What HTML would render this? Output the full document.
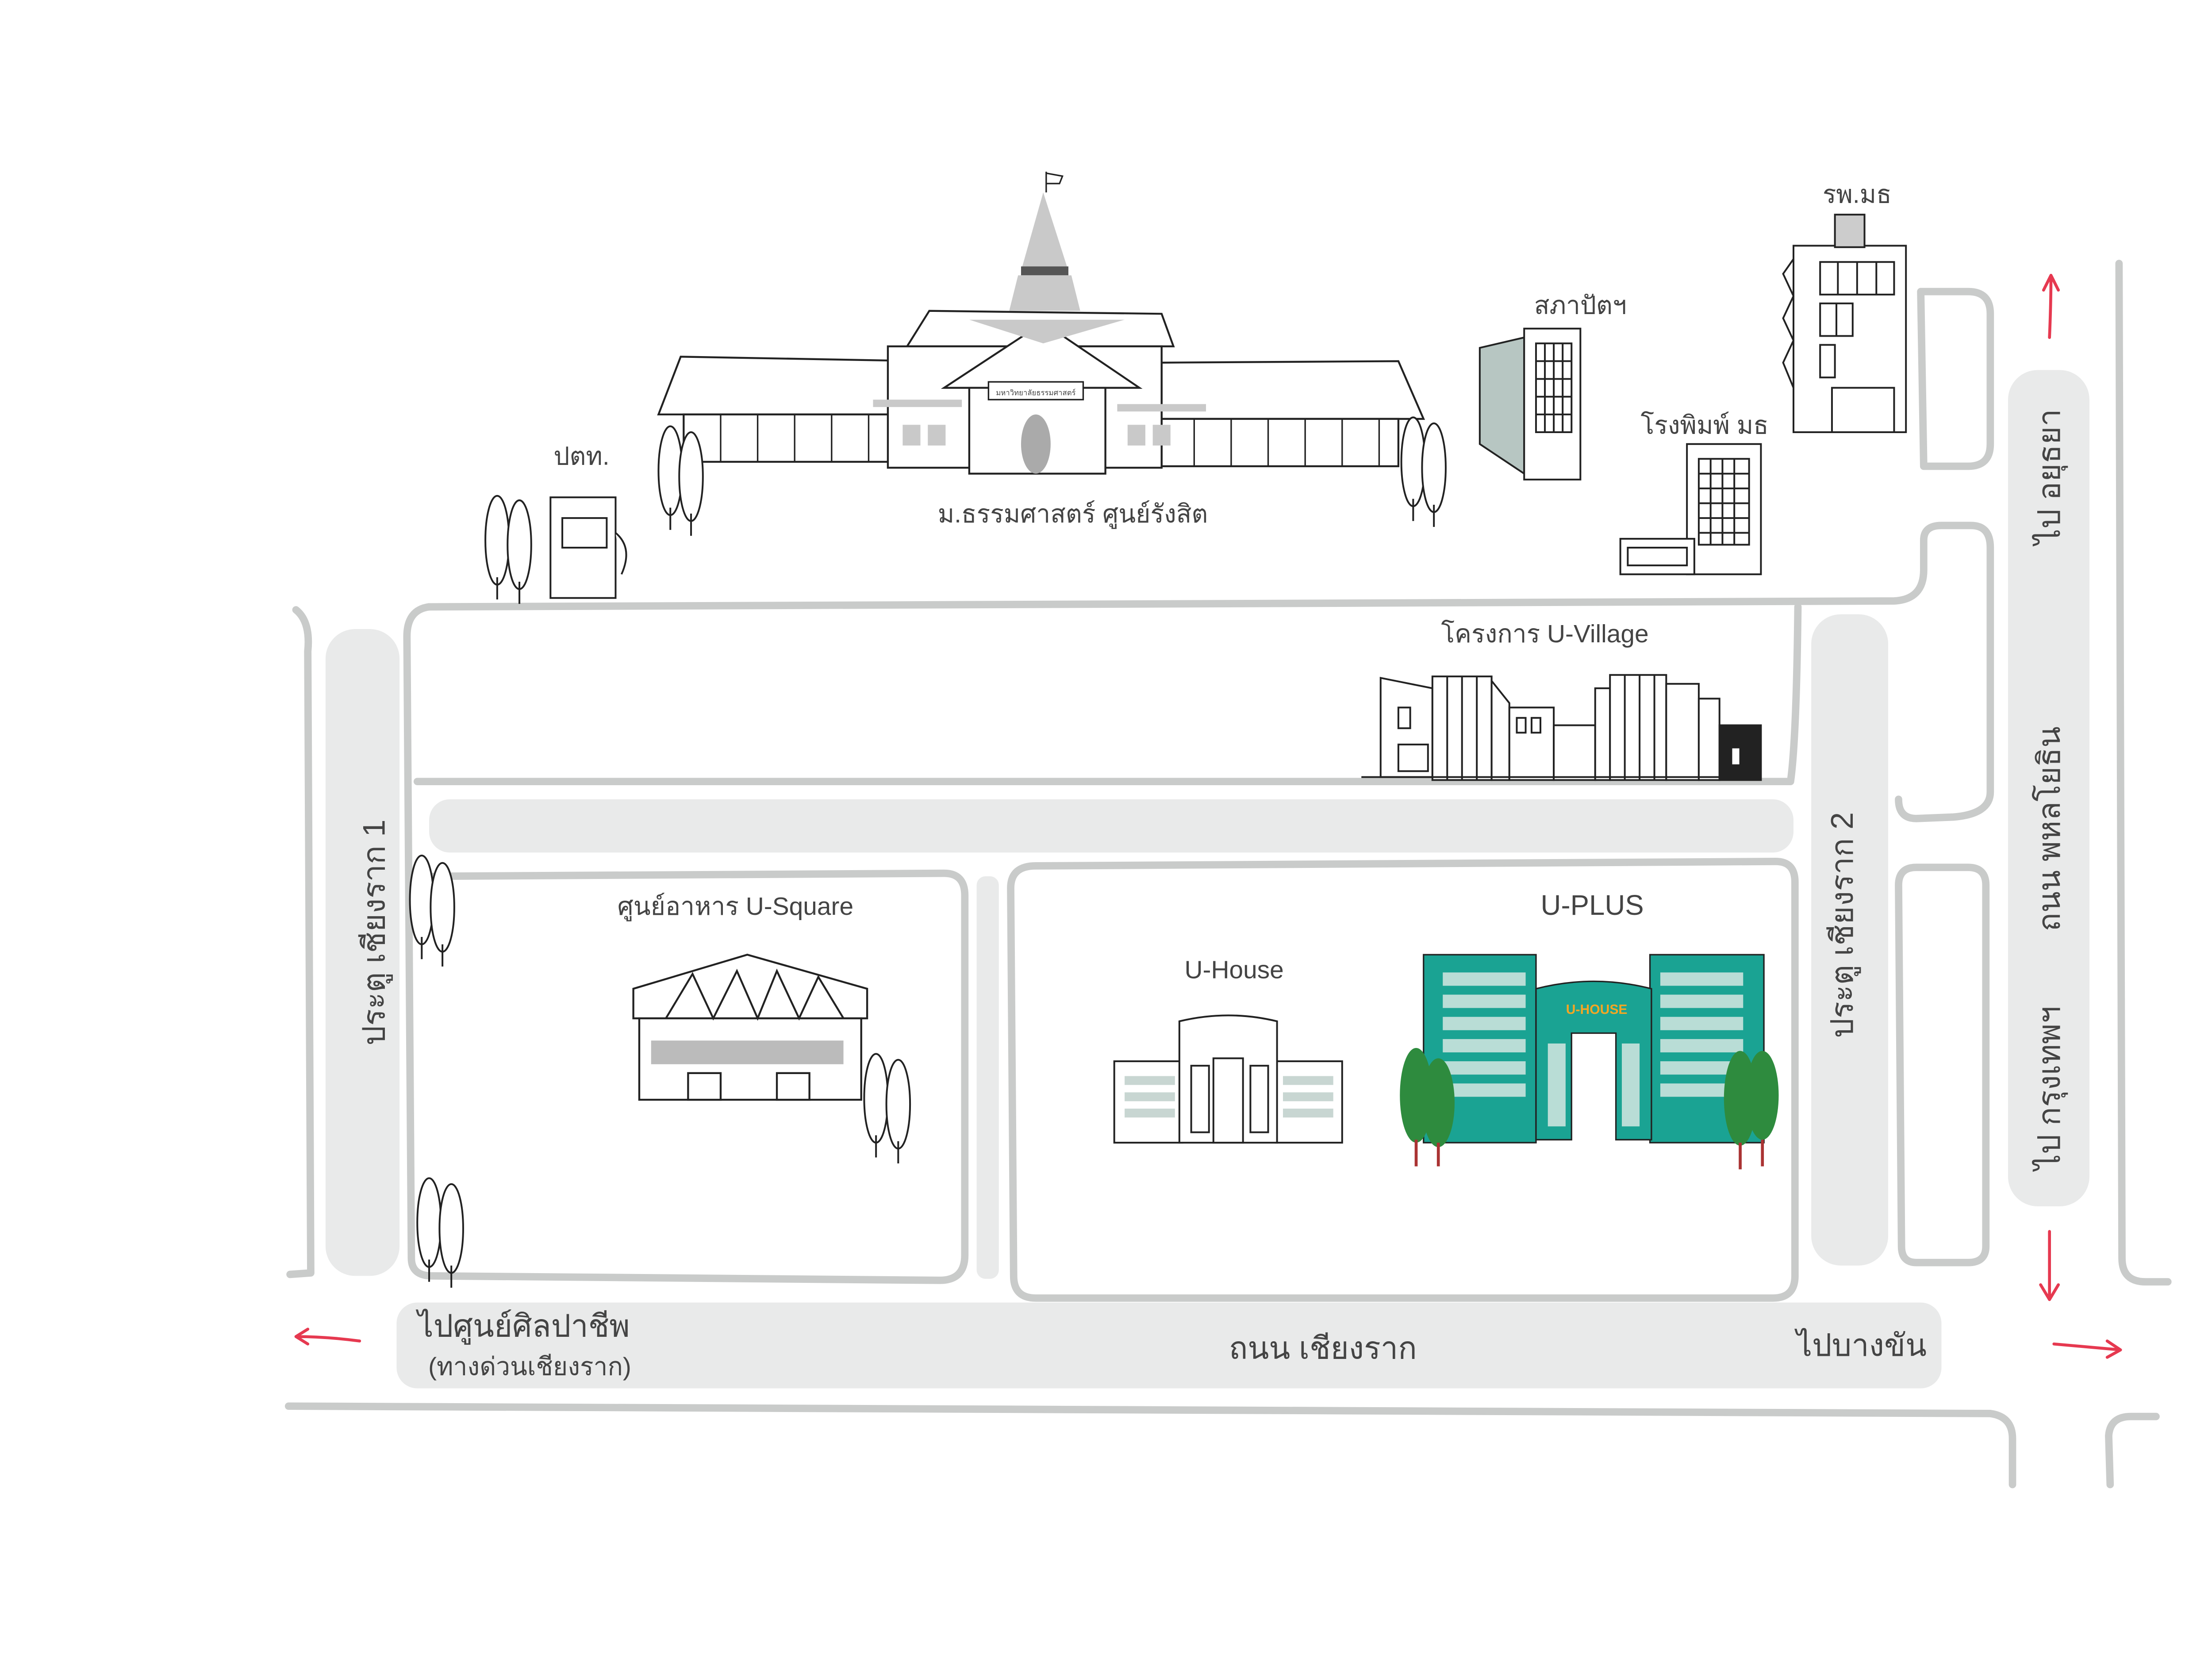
<!DOCTYPE html>
<html><head><meta charset="utf-8"><style>
html,body{margin:0;padding:0;background:#fff;}
svg{display:block;}
text{font-family:"Liberation Sans","DejaVu Sans",sans-serif;fill:#444;}
</style></head><body>
<svg width="5218" height="3791" viewBox="0 0 1560 1133" preserveAspectRatio="none" xmlns="http://www.w3.org/2000/svg">
<defs><g id="tr"><ellipse cx="0" cy="0" rx="8" ry="30" fill="#fff" stroke="#222" stroke-width="1.2"/><line x1="0" y1="25" x2="0" y2="40" stroke="#222" stroke-width="1.2"/></g></defs>
<rect width="1560" height="1133" fill="#fff"/>
<g fill="#e9eaea">
<rect x="220" y="425" width="50" height="437" rx="20"/>
<rect x="290" y="540" width="922" height="36" rx="14"/>
<rect x="660" y="592" width="15" height="272" rx="6"/>
<rect x="1224" y="415" width="52" height="440" rx="20"/>
<rect x="1357" y="250" width="55" height="565" rx="20"/>
<rect x="268" y="880" width="1044" height="58" rx="14"/>
</g>
<g fill="none" stroke="#c9cbca" stroke-width="5" stroke-linecap="round" stroke-linejoin="round">
<path d="M200 412 Q210 420 208 440 L210 860 L196 861"/>
<path d="M290 410 L1280 406 Q1300 405 1300 385 L1300 365 Q1300 355 1312 355 L1332 355 Q1345 355 1345 370 L1345 535 Q1345 550 1320 552 L1295 553 Q1283 553 1283 540"/>
<path d="M290 410 Q275 412 275 430 L278 850 Q278 862 292 862 L635 865 Q652 865 652 848 L652 605 Q652 590 638 590 L295 592 Q282 592 282 605"/>
<path d="M282 528 L1210 528 Q1214 500 1215 410"/>
<path d="M683 600 Q683 585 700 585 L1200 582 Q1213 582 1213 596 L1213 862 Q1213 877 1198 877 L700 877 Q685 877 685 862 Z"/>
<path d="M1283 598 Q1283 586 1295 586 L1330 586 Q1342 586 1342 598 L1342 842 Q1342 853 1330 853 L1295 853 Q1285 853 1285 842 Z"/>
<path d="M1298 197 L1330 197 Q1345 197 1345 212 L1345 300 Q1345 315 1330 315 L1300 315 Z"/>
<path d="M1432 178 L1434 850 Q1434 866 1450 866 L1465 866"/>
<path d="M195 950 L1345 955 Q1360 957 1360 972 L1360 1003"/>
<path d="M1426 1003 L1425 970 Q1426 957 1440 957 L1457 957"/>
</g>
<g fill="none" stroke="#e63950" stroke-width="2" stroke-linecap="round">
<path d="M243 906 Q220 903 200 903 M200 903 L208 898 M200 903 L208 908"/>
<path d="M1385 228 Q1386 205 1386 186 M1386 186 L1381 196 M1386 186 L1391 196"/>
<path d="M1385 832 Q1385 855 1385 878 M1385 878 L1379 868 M1385 878 L1391 868"/>
<path d="M1388 908 Q1410 910 1433 912 M1433 912 L1424 906 M1433 912 L1424 917"/>
</g>
<g fill="#fff" stroke="#222" stroke-width="1.3">
<path d="M445 280 L460 241 L625 244 L625 280 Z"/>
<rect x="462" y="280" width="160" height="32"/>
<path d="M785 245 L945 244 L962 283 L785 283 Z"/>
<rect x="785" y="283" width="160" height="32"/>
<path d="M613 234 L628 210 L785 212 L793 234 Z"/>
<rect x="600" y="234" width="185" height="82"/>
<path d="M638 262 L705 218 L770 262 Z"/>
<rect x="655" y="262" width="92" height="58"/>
</g>
<g fill="#c9c9c9"><path d="M705 130 L690 183 L722 183 Z"/><rect x="690" y="180" width="32" height="6" fill="#555"/><path d="M688 186 L724 186 L730 210 L682 210 Z"/><path d="M655 216 L760 216 L705 232Z"/><rect x="590" y="270" width="60" height="5"/><rect x="755" y="273" width="60" height="5"/><rect x="610" y="287" width="12" height="14"/><rect x="627" y="287" width="12" height="14"/><rect x="762" y="287" width="12" height="14"/><rect x="779" y="287" width="12" height="14"/><ellipse cx="700" cy="300" rx="10" ry="20" fill="#aaa"/></g>
<g stroke="#222" stroke-width="1" fill="none">
<line x1="707" y1="130" x2="707" y2="116"/><path d="M707 117 L718 119 L716 124 L707 124"/>
<rect x="668" y="258" width="64" height="12" fill="#fff"/>
<path d="M487 280v32M512 280v32M537 280v32M562 280v32M587 280v32M807 283v32M832 283v32M857 283v32M882 283v32M907 283v32M932 283v32"/>
</g>
<text x="700" y="267" font-size="5" text-anchor="middle">มหาวิทยาลัยธรรมศาสตร์</text>
<text x="725" y="353" font-size="17" text-anchor="middle">ม.ธรรมศาสตร์  ศูนย์รังสิต</text>
<use href="#tr" x="453" y="318"/><use href="#tr" x="467" y="322"/>
<use href="#tr" x="955" y="312"/><use href="#tr" x="969" y="316"/>
<use href="#tr" x="336" y="365"/><use href="#tr" x="351" y="368"/>
<use href="#tr" x="285" y="608"/><use href="#tr" x="299" y="613"/>
<use href="#tr" x="592" y="742"/><use href="#tr" x="607" y="746"/>
<use href="#tr" x="290" y="826"/><use href="#tr" x="305" y="830"/>
<g fill="#fff" stroke="#222" stroke-width="1.2"><rect x="372" y="336" width="44" height="68"/><rect x="380" y="350" width="30" height="20"/><path d="M416 360 Q428 370 420 388"/></g>
<text x="393" y="314" font-size="17" text-anchor="middle">ปตท.</text>
<g fill="#fff" stroke="#222" stroke-width="1.2"><path d="M1000 235 L1030 228 L1030 320 L1000 300 Z" fill="#b7c6c2"/><rect x="1030" y="222" width="38" height="102"/>
<path d="M1038 232h24v60h-24z M1044 232v60M1050 232v60M1056 232v60M1038 244h24M1038 256h24M1038 268h24M1038 280h24" fill="none"/></g>
<text x="1068" y="212" font-size="17" text-anchor="middle">สภาปัตฯ</text>
<g fill="#fff" stroke="#222" stroke-width="1.2"><rect x="1140" y="300" width="50" height="88"/><rect x="1095" y="364" width="50" height="24"/>
<path d="M1148 310h34v58h-34z M1156 310v58M1164 310v58M1172 310v58M1148 320h34M1148 330h34M1148 340h34M1148 350h34M1148 360h34M1100 370h40v12h-40z" fill="none"/></g>
<text x="1152" y="293" font-size="17" text-anchor="middle">โรงพิมพ์ มธ</text>
<g fill="#fff" stroke="#222" stroke-width="1.2"><rect x="1212" y="166" width="76" height="126"/><rect x="1240" y="145" width="20" height="22" fill="#ccc"/>
<path d="M1230 177h50v22h-50z M1242 177v22M1255 177v22M1268 177v22M1230 205h22v22h-22zM1241 205v22M1230 233h10v22h-10zM1238 262h42v30h-42z" fill="none"/>
<path d="M1212 175 L1205 185 L1212 200 L1205 215 L1212 230 L1205 245 L1212 262" fill="none"/></g>
<text x="1255" y="137" font-size="17" text-anchor="middle">รพ.มธ</text>
<g fill="#fff" stroke="#222" stroke-width="1.2">
<path d="M933 458 L968 465 L968 525 L933 525 Z"/><rect x="968" y="457" width="40" height="70"/>
<path d="M1008 460 L1020 475 L1020 527 L1008 527Z"/><rect x="1020" y="478" width="30" height="49"/>
<rect x="1050" y="490" width="28" height="37"/><rect x="1078" y="465" width="10" height="62"/><rect x="1088" y="456" width="38" height="71"/>
<rect x="1126" y="462" width="22" height="65"/><rect x="1148" y="472" width="14" height="55"/><rect x="1162" y="490" width="28" height="37" fill="#222"/>
<path d="M978 457v70M988 457v70M998 457v70M1098 456v71M1108 456v71M1118 456v71M920 525h270" fill="none"/>
<rect x="945" y="478" width="8" height="14"/><rect x="945" y="503" width="20" height="18"/><rect x="1025" y="485" width="6" height="10"/><rect x="1035" y="485" width="6" height="10"/><rect x="1170" y="505" width="6" height="12" fill="#fff"/>
</g>
<text x="1044" y="434" font-size="17" text-anchor="middle">โครงการ U-Village</text>
<g fill="#fff" stroke="#222" stroke-width="1.3">
<path d="M428 668 L505 645 L586 668 L586 688 L428 688 Z"/>
<rect x="432" y="688" width="150" height="55"/>
<path d="M450 688 L468 658 L482 688 L498 656 L512 688 L525 656 L540 688 L553 660 L570 688" fill="none"/>
<rect x="465" y="725" width="22" height="18"/><rect x="525" y="725" width="22" height="18"/>
</g>
<g fill="#bbb"><path d="M440 703 h130 v16 h-130z"/></g>
<text x="497" y="618" font-size="17" text-anchor="middle">ศูนย์อาหาร U-Square</text>
<g fill="#fff" stroke="#222" stroke-width="1.2">
<rect x="753" y="717" width="46" height="55"/><rect x="862" y="717" width="45" height="55"/>
<path d="M797 690 Q830 682 863 690 L863 772 L797 772 Z"/>
<rect x="820" y="715" width="20" height="57"/>
<path d="M805 720h12v45h-12zM845 720h12v45h-12z" fill="none"/>
</g>
<g fill="#c8d6d2"><rect x="760" y="727" width="34" height="6"/><rect x="760" y="738" width="34" height="6"/><rect x="760" y="749" width="34" height="6"/><rect x="867" y="727" width="34" height="6"/><rect x="867" y="738" width="34" height="6"/><rect x="867" y="749" width="34" height="6"/></g>
<text x="834" y="661" font-size="17" text-anchor="middle">U-House</text>
<g stroke="#222" stroke-width="1">
<rect x="962" y="645" width="76" height="127" fill="#1aa393"/>
<rect x="1115" y="645" width="77" height="127" fill="#1aa393"/>
<path d="M1038 668 Q1077 658 1116 668 L1116 770 L1092 770 L1092 698 L1062 698 L1062 770 L1038 770 Z" fill="#1aa393"/>
</g>
<g fill="#b9ddd6">
<rect x="975" y="657" width="56" height="9"/><rect x="975" y="672" width="56" height="9"/><rect x="975" y="687" width="56" height="9"/><rect x="975" y="702" width="56" height="9"/><rect x="975" y="717" width="56" height="9"/><rect x="975" y="732" width="56" height="9"/>
<rect x="1122" y="657" width="56" height="9"/><rect x="1122" y="672" width="56" height="9"/><rect x="1122" y="687" width="56" height="9"/><rect x="1122" y="702" width="56" height="9"/><rect x="1122" y="717" width="56" height="9"/><rect x="1122" y="732" width="56" height="9"/>
<rect x="1046" y="705" width="12" height="56"/><rect x="1096" y="705" width="12" height="56"/>
</g>
<text x="1079" y="685" font-size="9" text-anchor="middle" font-weight="bold" style="fill:#f5a623">U-HOUSE</text>
<g fill="#2e8b3e"><ellipse cx="957" cy="740" rx="11" ry="32"/><ellipse cx="972" cy="745" rx="11" ry="30"/><ellipse cx="1176" cy="742" rx="11" ry="32"/><ellipse cx="1191" cy="740" rx="11" ry="30"/></g>
<g stroke="#a33" stroke-width="2"><path d="M957 770v18M972 772v16M1176 772v18M1191 770v18"/></g>
<text x="1076" y="618" font-size="19" text-anchor="middle">U-PLUS</text>
<text x="354" y="903" font-size="21" text-anchor="middle">ไปศูนย์ศิลปาชีพ</text>
<text x="358" y="929" font-size="17" text-anchor="middle">(ทางด่วนเชียงราก)</text>
<text x="894" y="918" font-size="21" text-anchor="middle">ถนน เชียงราก</text>
<text x="1258" y="916" font-size="21" text-anchor="middle">ไปบางขัน</text>
<text transform="translate(260 630) rotate(-90)" font-size="21" text-anchor="middle">ประตู เชียงราก 1</text>
<text transform="translate(1252 625) rotate(-90)" font-size="21" text-anchor="middle">ประตู เชียงราก 2</text>
<text transform="translate(1392 322) rotate(-90)" font-size="21" text-anchor="middle">ไป อยุธยา</text>
<text transform="translate(1392 560) rotate(-90)" font-size="21" text-anchor="middle">ถนน พหลโยธิน</text>
<text transform="translate(1392 735) rotate(-90)" font-size="21" text-anchor="middle">ไป กรุงเทพฯ</text>
</svg>
</body></html>
